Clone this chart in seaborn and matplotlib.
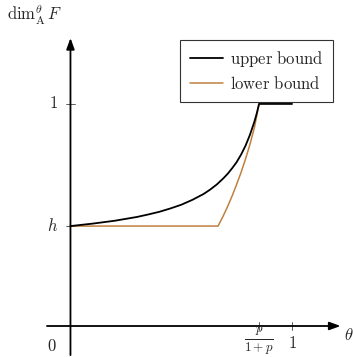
import matplotlib
matplotlib.use("Agg")
import matplotlib.pyplot as plt
import seaborn as sns
import pandas as pd

# Bounds on the intermediate dimension spectrum of F
h = 0.45                 # value at theta = 0
p_ratio = 0.851          # position of p/(1+p) on the theta axis

upper_theta = [0.0, 0.1, 0.2, 0.3, 0.35, 0.4, 0.45, 0.5, 0.55, 0.6, 0.63,
               0.66, 0.69, 0.71, 0.73, 0.75, 0.77, 0.79, 0.81, 0.83, 0.84,
               0.851, 1.0]
upper_dim = [0.450, 0.461, 0.474, 0.491, 0.502, 0.514, 0.529, 0.546, 0.568,
             0.594, 0.614, 0.637, 0.665, 0.686, 0.711, 0.738, 0.772, 0.812,
             0.861, 0.920, 0.955, 1.0, 1.0]

lower_theta = [0.0, 0.666, 0.69, 0.71, 0.73, 0.75, 0.77, 0.79, 0.81, 0.83,
               0.851]
lower_dim = [0.450, 0.450, 0.497, 0.540, 0.587, 0.638, 0.692, 0.752, 0.818,
             0.893, 1.0]

x_ticks = [p_ratio, 1.0]
x_tick_labels = [r"$\frac{p}{1+p}$", r"$1$"]
y_ticks = [h, 1.0]
y_tick_labels = [r"$h$", r"$1$"]

sns.set_theme(style="white")
plt.rcParams["mathtext.fontset"] = "cm"
plt.rcParams["font.family"] = ["DejaVu Serif"]

fig = plt.figure(figsize=(3.53, 3.57), dpi=100)
ax = fig.add_axes([0, 0, 1, 1])
ax.set_xlim(-0.318, 1.275)
ax.set_ylim(-0.1396, 1.468)
ax.axis("off")

upper = pd.DataFrame({"theta": upper_theta, "dim": upper_dim})
lower = pd.DataFrame({"theta": lower_theta, "dim": lower_dim})
sns.lineplot(data=upper, x="theta", y="dim", ax=ax, color="black", lw=1.3,
             sort=False, label=r"$\mathrm{upper\ bound}$", zorder=4,
             solid_joinstyle="round")
sns.lineplot(data=lower, x="theta", y="dim", ax=ax, color="#BF8040", lw=1.1,
             sort=False, label=r"$\mathrm{lower\ bound}$", zorder=3,
             solid_joinstyle="round")

# axes with arrow heads
arrow = dict(arrowstyle="-|>,head_length=0.55,head_width=0.2", lw=1.3,
             color="black", shrinkA=0, shrinkB=0)
ax.annotate("", xy=(1.219, 0), xytext=(-0.106, 0), arrowprops=arrow)
ax.annotate("", xy=(0, 1.297), xytext=(0, -0.131), arrowprops=arrow)

# tick marks
for xt in x_ticks:
    ax.plot([xt, xt], [-0.018, 0.018], color="#444444", lw=0.6)
for yt in y_ticks:
    ax.plot([-0.02, 0.02], [yt, yt], color="#444444", lw=0.6)

fs = 12
tick_fs = [13.5, fs]
tick_y = [-0.073, -0.077]
for xt, lab, size, ty in zip(x_ticks, x_tick_labels, tick_fs, tick_y):
    ax.text(xt, ty, lab, ha="center", va="center", fontsize=size)
for yt, lab in zip(y_ticks, y_tick_labels):
    ax.text(-0.055, yt, lab, ha="right", va="center", fontsize=fs)
ax.text(-0.085, -0.093, r"$0$", ha="center", va="center", fontsize=fs)
ax.text(1.255, -0.041, r"$\theta$", ha="center", va="center", fontsize=fs)
ax.text(-0.285, 1.40, r"$\mathrm{dim}_{\mathrm{A}}^{\theta}\,F$", ha="left",
        va="center", fontsize=fs)

leg = ax.legend(loc="upper right", bbox_to_anchor=(333 / 353, 1 - 40 / 357),
                bbox_transform=fig.transFigure, fontsize=fs, frameon=True,
                fancybox=False, edgecolor="#333333", framealpha=1,
                handlelength=2.0, handletextpad=0.45, labelspacing=0.4,
                borderpad=0.55, borderaxespad=0)
leg.get_frame().set_linewidth(0.8)

fig.savefig("out.png", dpi=100)
